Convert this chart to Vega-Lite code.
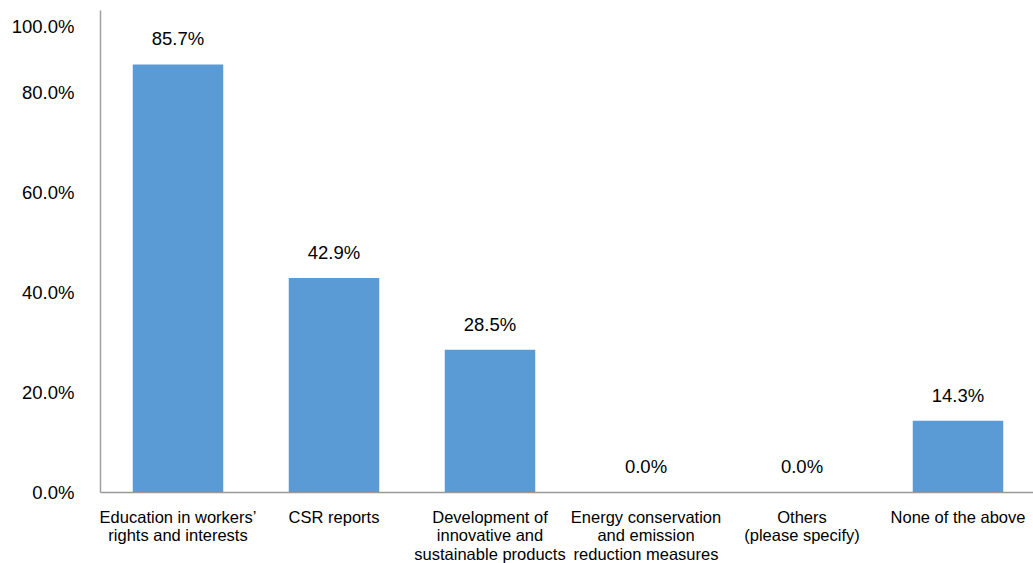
{
  "$schema": "https://vega.github.io/schema/vega-lite/v6.json",
  "autosize": {"type": "none"},
  "padding": {"left": 100, "top": 10, "right": 0, "bottom": 71},
  "width": 936,
  "height": 482,
  "background": "white",
  "config": {
    "view": {"stroke": null},
    "font": "Liberation Sans"
  },
  "data": {
    "values": [
      {"category": "Education in workers’|rights and interests", "value": 0.857},
      {"category": "CSR reports", "value": 0.429},
      {"category": "Development of|innovative and|sustainable products", "value": 0.285},
      {"category": "Energy conservation|and emission|reduction measures", "value": 0.0},
      {"category": "Others|(please specify)", "value": 0.0},
      {"category": "None of the above", "value": 0.143}
    ]
  },
  "encoding": {
    "x": {
      "field": "category",
      "type": "nominal",
      "sort": null,
      "scale": {"paddingInner": 0.42, "paddingOuter": 0.21},
      "axis": {
        "title": null,
        "labelAngle": 0,
        "labelExpr": "split(datum.label, '|')",
        "labelFont": "Liberation Sans",
        "labelFontSize": 16.5,
        "labelLineHeight": 18.5,
        "labelColor": "#000000",
        "labelPadding": 17,
        "labelBaseline": "top",
        "labelLimit": 0,
        "ticks": false,
        "domainColor": "#999999",
        "domainWidth": 1.5,
        "grid": false
      }
    },
    "y": {
      "field": "value",
      "type": "quantitative",
      "scale": {"domain": [0, 0.966], "nice": false, "zero": true},
      "axis": {
        "title": null,
        "values": [0, 0.2, 0.4, 0.6, 0.8, 0.932],
        "labelExpr": "datum.value > 0.9 ? '100.0%' : format(datum.value, '.1%')",
        "labelFont": "Liberation Sans",
        "labelFontSize": 18.5,
        "labelColor": "#000000",
        "labelPadding": 26,
        "ticks": false,
        "grid": false,
        "domainColor": "#a0a0a0",
        "domainWidth": 1.5
      }
    }
  },
  "layer": [
    {"mark": {"type": "bar", "color": "#5b9bd5"}},
    {
      "mark": {"type": "text", "baseline": "alphabetic", "dy": -19, "fontSize": 18.5, "font": "Liberation Sans", "color": "#000000"},
      "encoding": {"text": {"field": "value", "type": "quantitative", "format": ".1%"}}
    }
  ]
}
